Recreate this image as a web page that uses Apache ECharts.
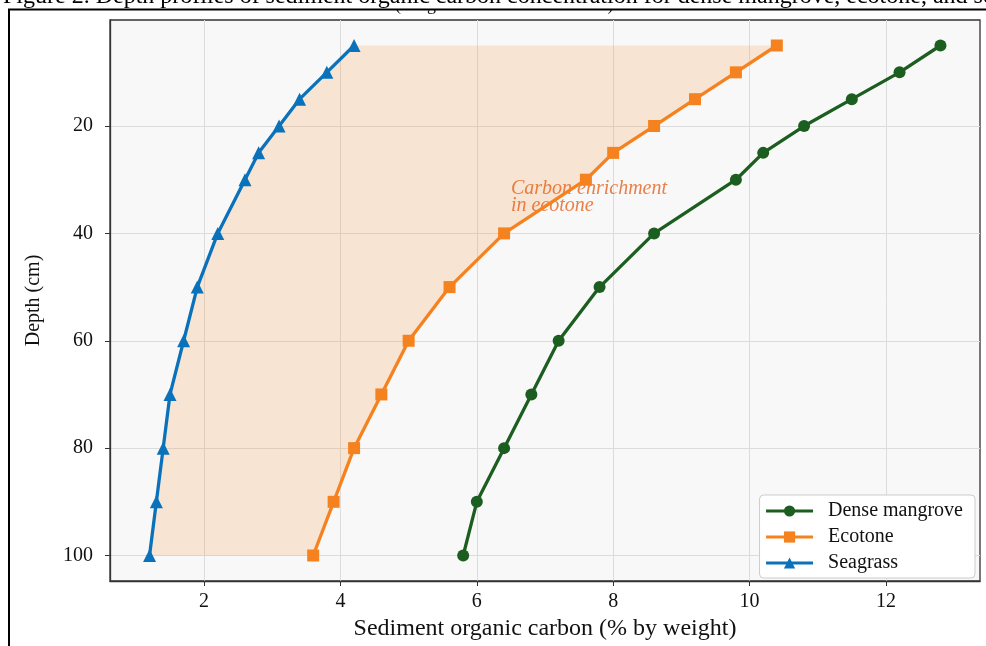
<!DOCTYPE html>
<html>
<head>
<meta charset="utf-8">
<script src="https://cdn.jsdelivr.net/npm/echarts@6/dist/echarts.min.js"></script>
<style>
html, body { margin: 0; padding: 0; background: #fff; }
#chart { width: 986px; height: 646px; }
</style>
</head>
<body>
<div id="chart"></div>
<script>
// depth profiles, values
var depth = [5, 10, 15, 20, 25, 30, 40, 50, 60, 70, 80, 90, 100];
var denseMangrove = [12.8, 12.2, 11.5, 10.8, 10.2, 9.8, 8.6, 7.8, 7.2, 6.8, 6.4, 6.0, 5.8];
var ecotone = [10.4, 9.8, 9.2, 8.6, 8.0, 7.6, 6.4, 5.6, 5.0, 4.6, 4.2, 3.9, 3.6];
var seagrass = [4.2, 3.8, 3.4, 3.1, 2.8, 2.6, 2.2, 1.9, 1.7, 1.5, 1.4, 1.3, 1.2];
var xTicks = [2, 4, 6, 8, 10, 12];
var yTicks = [20, 40, 60, 80, 100];
var noteText = 'Carbon enrichment\nin ecotone';
var notePos = [6.5, 33.2];
var caption = 'Figure 2. Depth profiles of sediment organic carbon concentration for dense mangrove, ecotone, and seagrass zones';
var subtitle = '(weight % mean of five cores)';

var serif = 'Liberation Serif';
var green = '#1c5e20';
var orange = '#f5821f';
var blue = '#0a72ba';

function pairs(xs) {
    return xs.map(function (v, i) { return [v, depth[i]]; });
}

var chart = echarts.init(document.getElementById('chart'));

var option = {
    animation: false,
    backgroundColor: '#fff',
    textStyle: { fontFamily: serif },
    grid: {
        left: 110, right: 6, top: 20, bottom: 62,
        show: true, backgroundColor: '#f8f8f8', borderColor: '#333', borderWidth: 1.3
    },
    xAxis: {
        type: 'value',
        min: 0.62, max: 13.38,
        name: 'Sediment organic carbon (% by weight)',
        nameLocation: 'middle',
        nameGap: 36,
        nameTextStyle: { fontFamily: serif, fontSize: 24, color: '#111' },
        axisLine: { show: true, lineStyle: { color: '#333', width: 1.3 } },
        axisTick: { show: true, length: 5, lineStyle: { color: '#333' }, customValues: xTicks },
        axisLabel: { fontFamily: serif, fontSize: 20, color: '#111', margin: 11, customValues: xTicks },
        splitLine: { show: true, lineStyle: { color: '#dcdcdc', width: 1 } }
    },
    yAxis: {
        type: 'value',
        inverse: true,
        min: 0.25, max: 104.75,
        name: 'Depth (cm)',
        nameLocation: 'middle',
        nameGap: 66,
        nameTextStyle: { fontFamily: serif, fontSize: 20, color: '#111' },
        axisLine: { show: true, lineStyle: { color: '#333', width: 1.3 } },
        axisTick: { show: true, length: 5, lineStyle: { color: '#333' }, customValues: yTicks },
        axisLabel: { fontFamily: serif, fontSize: 20, color: '#111', margin: 17, customValues: yTicks },
        splitLine: { show: true, lineStyle: { color: '#dcdcdc', width: 1 } }
    },
    legend: {
        orient: 'vertical',
        right: 11,
        bottom: 68,
        data: ['Dense mangrove', 'Ecotone', 'Seagrass'],
        backgroundColor: '#fff',
        borderColor: '#cccccc',
        borderWidth: 1,
        borderRadius: 4,
        padding: [6, 12, 5, 5],
        itemGap: 6,
        itemWidth: 47,
        itemHeight: 14,
        lineStyle: { width: 3 },
        textStyle: { fontFamily: serif, fontSize: 20, color: '#111', padding: [0, 0, 0, 10] }
    },
    series: [
        {
            // shaded band between seagrass and ecotone
            type: 'custom',
            name: 'band',
            silent: true,
            z: 1,
            data: [[seagrass[0], depth[0]]],
            renderItem: function (params, api) {
                var pts = [];
                for (var i = 0; i < depth.length; i++) pts.push(api.coord([seagrass[i], depth[i]]));
                for (var j = depth.length - 1; j >= 0; j--) pts.push(api.coord([ecotone[j], depth[j]]));
                return {
                    type: 'polygon',
                    shape: { points: pts },
                    style: { fill: orange, opacity: 0.17 }
                };
            }
        },
        {
            type: 'scatter',
            name: 'note',
            silent: true,
            z: 2,
            symbolSize: 0,
            data: [notePos],
            label: {
                show: true,
                position: [0, 0],
                align: 'left',
                verticalAlign: 'middle',
                formatter: noteText,
                fontFamily: serif,
                fontStyle: 'italic',
                fontSize: 20,
                lineHeight: 17,
                color: '#e5611a'
            }
        },
        {
            name: 'Dense mangrove',
            type: 'line',
            z: 3,
            data: pairs(denseMangrove),
            symbol: 'circle',
            symbolSize: 12,
            lineStyle: { color: green, width: 3.3 },
            itemStyle: { color: green }
        },
        {
            name: 'Ecotone',
            type: 'line',
            z: 3,
            data: pairs(ecotone),
            symbol: 'rect',
            symbolSize: 12,
            lineStyle: { color: orange, width: 3.3 },
            itemStyle: { color: orange }
        },
        {
            name: 'Seagrass',
            type: 'line',
            z: 3,
            data: pairs(seagrass),
            symbol: 'triangle',
            symbolSize: 13,
            lineStyle: { color: blue, width: 3.3 },
            itemStyle: { color: blue }
        }
    ],
    graphic: [
        {
            type: 'text', z: 100, x: 395, y: -4,
            style: { text: subtitle, font: '18px "Liberation Serif"', fill: '#111' }
        },
        { type: 'rect', z: 101, shape: { x: 0, y: 0, width: 986, height: 9.5 }, style: { fill: '#fff' } },
        { type: 'rect', z: 102, shape: { x: 9, y: 9.5, width: 1000, height: 700 }, style: { fill: null, stroke: '#000', lineWidth: 2 } },
        {
            type: 'text', z: 103, x: 3, y: -15,
            style: { text: caption, font: '24px "Liberation Serif"', fill: '#000' }
        }
    ]
};

chart.setOption(option);
</script>
</body>
</html>
